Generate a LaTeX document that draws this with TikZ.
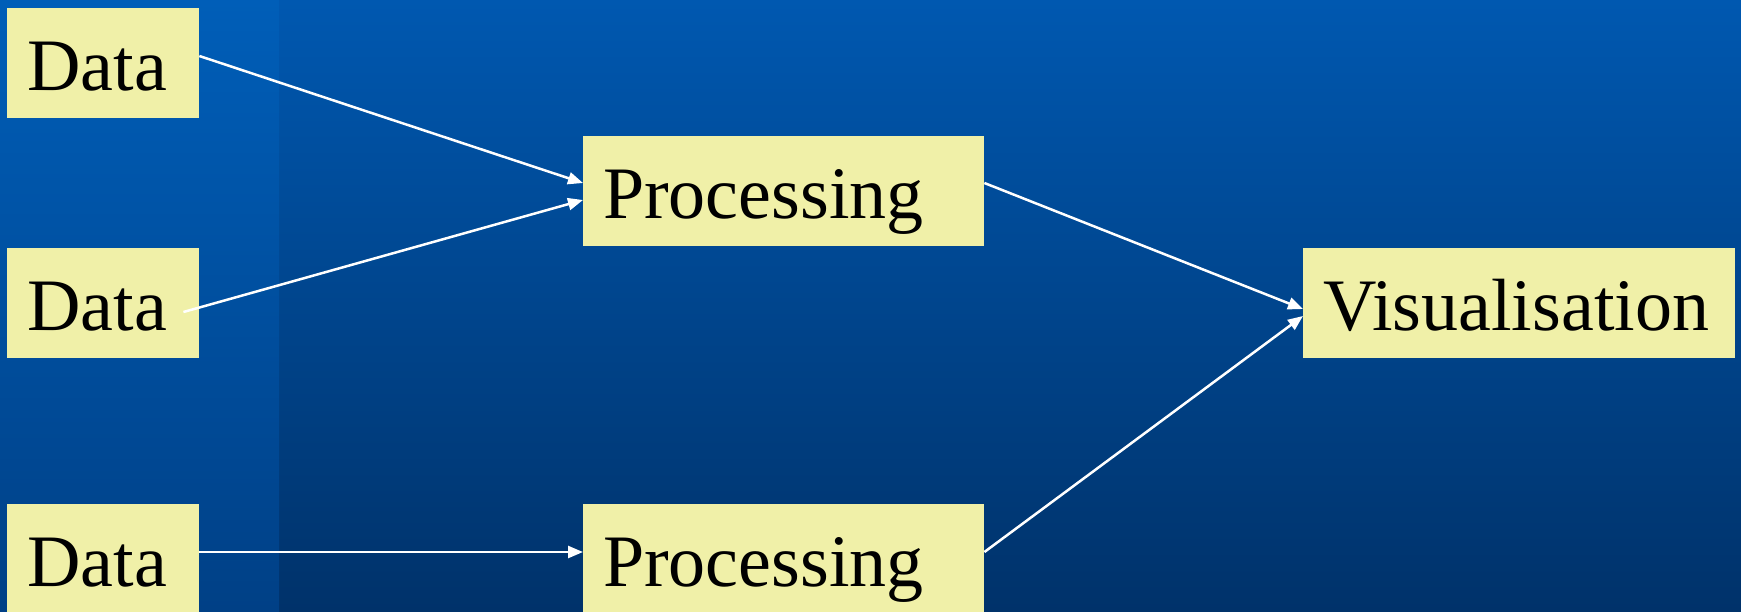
\documentclass[tikz,border=0pt]{standalone}
\usepackage{fontspec}
\setmainfont{Liberation Serif}
\usetikzlibrary{arrows.meta}
\definecolor{boxfill}{RGB}{240,240,168}
\definecolor{bgtop}{RGB}{0,88,176}
\definecolor{bgbot}{RGB}{0,50,106}
\definecolor{striptop}{RGB}{0,94,184}
\definecolor{stripbot}{RGB}{0,64,134}
\tikzset{
  box/.style={fill=boxfill, draw=none, anchor=north west, inner xsep=20pt, inner ysep=0pt,
    text height=82pt, text depth=28pt, align=left, font=\fontsize{74}{80}\selectfont, text=black},
  databox/.style={box, text width=152pt},
  procbox/.style={box, text width=361pt},
  visbox/.style={box, text width=392pt},
  conn/.style={draw=white, line width=2.5pt, -{Triangle[length=15pt,width=12pt]}}
}
\begin{document}
\begin{tikzpicture}[x=1pt,y=-1pt]
\useasboundingbox (0,0) rectangle (1741,611);
\clip (0,0) rectangle (1741,611);
\shade[top color=bgtop, bottom color=bgbot] (0,0) rectangle (1741,611);
\shade[top color=striptop, bottom color=stripbot] (0,0) rectangle (279,611);

\node[databox] (d1) at (7,8) {Data};
\node[databox] (d2) at (7,248) {Data};
\node[databox] (d3) at (7,504) {Data};
\node[procbox] (p1) at (583,136) {Processing};
\node[procbox] (p2) at (583,504) {Processing};
\node[visbox] (v) at (1303,248) {Visualisation};

\draw[conn] ([yshift=-48pt]d1.north east) -- ([yshift=-47pt]p1.north west);
\draw[conn] ([xshift=-16pt,yshift=-64pt]d2.north east) -- ([yshift=-64pt]p1.north west);
\draw[conn] ([yshift=-48pt]d3.north east) -- ([yshift=-48pt]p2.north west);
\draw[conn] ([yshift=-47pt]p1.north east) -- ([yshift=-61pt]v.north west);
\draw[conn] ([yshift=-48pt]p2.north east) -- ([yshift=-68pt]v.north west);
\end{tikzpicture}
\end{document}
